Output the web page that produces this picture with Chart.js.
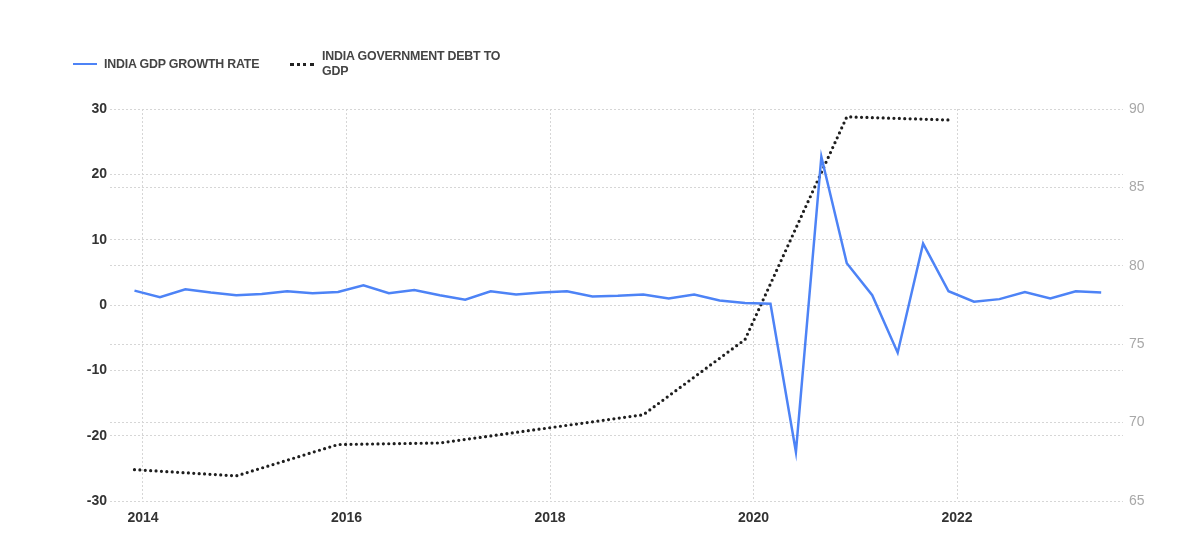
<!DOCTYPE html>
<html>
<head>
<meta charset="utf-8">
<script src="https://cdn.jsdelivr.net/npm/chart.js@4.4.1/dist/chart.umd.min.js"></script>
<style>
  html, body { margin: 0; padding: 0; background: #fff; }
  #wrap { position: relative; width: 1200px; height: 554px; }
  #legend { position: absolute; left: 0; top: 0; font-family: "Liberation Sans", Arial, sans-serif; font-size: 12.4px; font-weight: bold; color: #444; letter-spacing: -0.2px; }
  .item { position: absolute; white-space: nowrap; }
  .line-sample { position: absolute; width: 24px; height: 0; }
</style>
</head>
<body>
<div id="wrap">
  <canvas id="c" width="1200" height="554"></canvas>
  <div id="legend">
    <div class="line-sample" style="left:73px; top:63px; border-top:2.5px solid #4d83f6;"></div>
    <div class="item" style="left:104px; top:57px;">INDIA GDP GROWTH RATE</div>
    <div class="line-sample" style="left:290px; top:63px; border-top:3px dotted #222;"></div>
    <div class="item" style="left:322px; top:49px; line-height:14.5px;">INDIA GOVERNMENT DEBT TO<br>GDP</div>
  </div>
</div>
<script>
// ---- data ----
const gdpDates = ["2013-12","2014-03","2014-06","2014-09","2014-12","2015-03","2015-06","2015-09","2015-12",
  "2016-03","2016-06","2016-09","2016-12","2017-03","2017-06","2017-09","2017-12","2018-03","2018-06","2018-09",
  "2018-12","2019-03","2019-06","2019-09","2019-12","2020-03","2020-06","2020-09","2020-12","2021-03","2021-06",
  "2021-09","2021-12","2022-03","2022-06","2022-09","2022-12","2023-03","2023-06"];
const gdpGrowth = [2.2,1.2,2.4,1.9,1.5,1.7,2.1,1.8,2.0,3.0,1.8,2.3,1.5,0.8,2.1,1.6,1.9,2.1,1.3,1.4,
  1.6,1.0,1.6,0.7,0.3,0.2,-22.5,22.7,6.4,1.5,-7.3,9.4,2.1,0.5,0.9,2.0,1.0,2.1,1.9];
const debtDates = ["2013-12","2014-12","2015-12","2016-12","2017-12","2018-12","2019-12","2020-12","2021-12"];
const debtToGdp = [67.0,66.6,68.6,68.7,69.6,70.5,75.3,89.5,89.3];
const xTickLabels = [2014,2016,2018,2020,2022];
const leftTicks = [-30,-20,-10,0,10,20,30];
const rightTicks = [65,70,75,80,85,90];

function toYear(s){ const [y,m] = s.split("-").map(Number); return y + (m-1)/12; }
const gdpPts = gdpDates.map((d,i)=>({x:toYear(d), y:gdpGrowth[i]}));
const debtPts = debtDates.map((d,i)=>({x:toYear(d), y:debtToGdp[i]}));

const FONT = "'Liberation Sans', Arial, sans-serif";
const gridColor = "#d6d6d6";

new Chart(document.getElementById("c"), {
  type: "line",
  data: {
    datasets: [
      { label: "INDIA GDP GROWTH RATE", data: gdpPts, yAxisID: "yL", borderColor: "#4d83f6", borderWidth: 2.5,
        pointRadius: 0, tension: 0, fill: false },
      { label: "INDIA GOVERNMENT DEBT TO GDP", data: debtPts, yAxisID: "yR", borderColor: "#1e1e1e", borderWidth: 3.2,
        borderDash: [0, 5.4], borderCapStyle: "round", pointRadius: 0, tension: 0, fill: false }
    ]
  },
  options: {
    responsive: false,
    animation: false,
    layout: { padding: { top: 109, bottom: 0, left: 0, right: 0 } },
    plugins: { legend: { display: false }, tooltip: { enabled: false } },
    scales: {
      x: {
        type: "linear", min: 2013.676, max: 2023.631,
        afterBuildTicks: s => { s.ticks = xTickLabels.map(v=>({value:v})); },
        afterFit: s => { s.height = 53; },
        ticks: { padding: 9, color: "#333", font: { family: FONT, size: 14, weight: "bold" }, callback: v => String(v), maxRotation: 0 },
        grid: { color: gridColor, drawTicks: false },
        border: { display: false, dash: [2, 2] }
      },
      yL: {
        position: "left", min: -30, max: 30,
        afterBuildTicks: s => { s.ticks = leftTicks.map(v=>({value:v})); },
        afterFit: s => { s.width = 110; },
        ticks: { padding: 3, color: "#333", font: { family: FONT, size: 14, weight: "bold" } },
        grid: { color: gridColor, drawTicks: false },
        border: { display: false, dash: [2, 2] }
      },
      yR: {
        position: "right", min: 65, max: 90,
        afterBuildTicks: s => { s.ticks = rightTicks.map(v=>({value:v})); },
        afterFit: s => { s.width = 77; },
        ticks: { padding: 6, color: "#a8a8a8", font: { family: FONT, size: 14 } },
        grid: { color: gridColor, drawTicks: false },
        border: { display: false, dash: [2, 2] }
      }
    }
  }
});
</script>
</body>
</html>
